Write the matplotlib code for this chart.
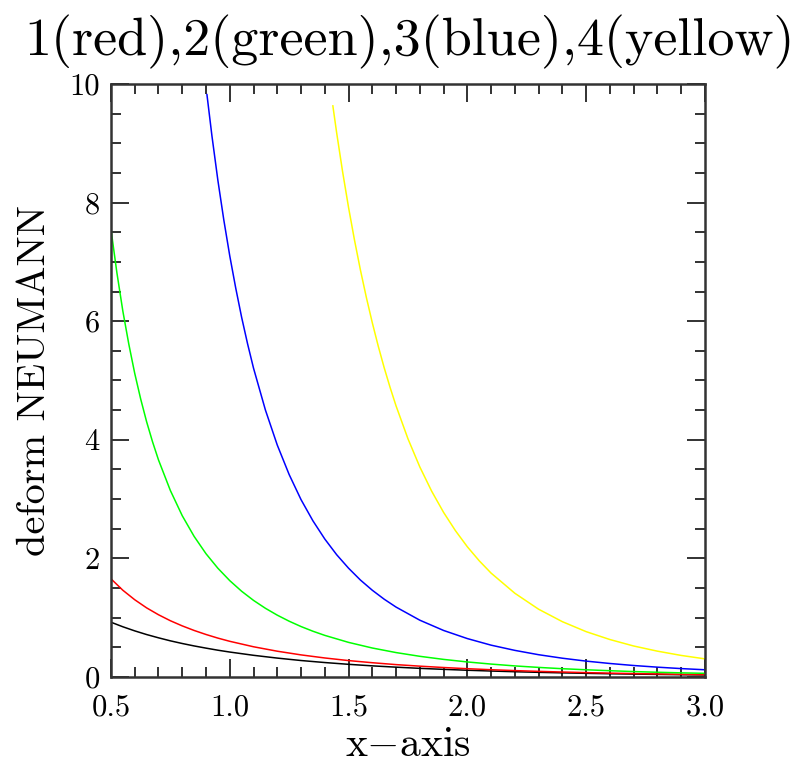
import matplotlib
matplotlib.use("Agg")
import matplotlib.pyplot as plt
from matplotlib.ticker import MultipleLocator

plt.rcParams["font.family"] = "cmr10"
plt.rcParams["mathtext.fontset"] = "cm"
plt.rcParams["axes.formatter.use_mathtext"] = True

# values
x_black = [0.5, 0.55, 0.6, 0.65, 0.7, 0.75, 0.8, 0.85, 0.9, 0.95, 1.0, 1.1, 1.2, 1.3,
           1.4, 1.5, 1.6, 1.7, 1.8, 1.9, 2.0, 2.1, 2.2, 2.3, 2.4, 2.5, 2.6, 2.7, 2.8,
           2.9, 3.0]
y_black = [0.924, 0.847, 0.778, 0.716, 0.661, 0.610, 0.565, 0.524, 0.487, 0.452, 0.421,
           0.366, 0.319, 0.278, 0.244, 0.214, 0.188, 0.166, 0.146, 0.129, 0.114, 0.101,
           0.089, 0.079, 0.070, 0.062, 0.055, 0.049, 0.044, 0.039, 0.035]

x_red = x_black
y_red = [1.656, 1.463, 1.303, 1.166, 1.050, 0.949, 0.862, 0.785, 0.717, 0.656, 0.602,
         0.510, 0.435, 0.373, 0.321, 0.277, 0.241, 0.209, 0.183, 0.160, 0.140, 0.123,
         0.108, 0.095, 0.084, 0.074, 0.065, 0.058, 0.051, 0.045, 0.040]

x_green = [0.5, 0.525, 0.55, 0.575, 0.6, 0.625, 0.65, 0.675, 0.7, 0.75, 0.8, 0.85, 0.9,
           0.95, 1.0, 1.05, 1.1, 1.15, 1.2, 1.25, 1.3, 1.35, 1.4, 1.5, 1.6, 1.7, 1.8,
           1.9, 2.0, 2.1, 2.2, 2.3, 2.4, 2.5, 2.6, 2.7, 2.8, 2.9, 3.0]
y_green = [7.55, 6.816, 6.17, 5.615, 5.12, 4.689, 4.305, 3.966, 3.661, 3.145, 2.72,
           2.371, 2.079, 1.834, 1.625, 1.446, 1.292, 1.159, 1.043, 0.941, 0.851, 0.772,
           0.702, 0.584, 0.489, 0.412, 0.349, 0.297, 0.254, 0.218, 0.187, 0.162, 0.140,
           0.122, 0.106, 0.092, 0.080, 0.070, 0.062]

x_blue = [0.904, 0.925, 0.95, 0.975, 1.0, 1.025, 1.05, 1.075, 1.1, 1.15, 1.2, 1.25,
          1.3, 1.35, 1.4, 1.45, 1.5, 1.55, 1.6, 1.65, 1.7, 1.8, 1.9, 2.0, 2.1, 2.2,
          2.3, 2.4, 2.5, 2.6, 2.7, 2.8, 2.9, 3.0]
y_blue = [9.82, 9.124, 8.375, 7.706, 7.102, 6.561, 6.065, 5.618, 5.208, 4.503, 3.911,
          3.414, 2.991, 2.634, 2.327, 2.062, 1.835, 1.635, 1.463, 1.312, 1.179, 0.958,
          0.785, 0.648, 0.537, 0.449, 0.376, 0.317, 0.268, 0.228, 0.194, 0.166, 0.142,
          0.122]

x_yellow = [1.434, 1.45, 1.475, 1.5, 1.525, 1.55, 1.575, 1.6, 1.625, 1.65, 1.675, 1.7,
            1.75, 1.8, 1.85, 1.9, 1.95, 2.0, 2.05, 2.1, 2.2, 2.3, 2.4, 2.5, 2.6, 2.7,
            2.8, 2.9, 3.0]
y_yellow = [9.63, 9.175, 8.519, 7.918, 7.368, 6.862, 6.40, 5.973, 5.579, 5.215, 4.881,
            4.571, 4.018, 3.542, 3.132, 2.776, 2.467, 2.196, 1.96, 1.752, 1.412, 1.143,
            0.933, 0.765, 0.632, 0.523, 0.436, 0.364, 0.306]

fig = plt.figure(figsize=(8.07, 7.63), dpi=100)
ax = fig.add_axes([0.1375, 0.1127, 0.736, 0.7773])

ax.plot(x_black, y_black, color="black", lw=1.1)
ax.plot(x_red, y_red, color="red", lw=1.1)
ax.plot(x_green, y_green, color="#00ff00", lw=1.1)
ax.plot(x_blue, y_blue, color="blue", lw=1.1)
ax.plot(x_yellow, y_yellow, color="yellow", lw=1.1)

ax.set_xlim(0.5, 3.0)
ax.set_ylim(0, 10)
ax.xaxis.set_major_locator(MultipleLocator(0.5))
ax.xaxis.set_minor_locator(MultipleLocator(0.1))
ax.yaxis.set_major_locator(MultipleLocator(2))
ax.yaxis.set_minor_locator(MultipleLocator(0.5))
ax.xaxis.set_major_formatter(plt.FuncFormatter(lambda v, p: f"{v:.1f}"))
ax.yaxis.set_major_formatter(plt.FuncFormatter(lambda v, p: f"{v:.0f}"))

ax.tick_params(which="both", direction="in", top=True, right=True, width=1.3,
               color="#222222", labelsize=22)
ax.tick_params(axis="x", pad=12)
ax.tick_params(axis="y", pad=8)
ax.tick_params(which="major", length=13)
ax.tick_params(which="minor", length=7)
for s in ax.spines.values():
    s.set_linewidth(1.8)
    s.set_color("#333333")

ax.set_xlabel(r"x$-$axis", fontsize=30, labelpad=4)
ax.set_ylabel("deform NEUMANN", fontsize=29, labelpad=12)
fig.text(0.508, 0.927, "1(red),2(green),3(blue),4(yellow)", fontsize=39,
         ha="center", va="baseline")

fig.savefig("out.png", dpi=100)
